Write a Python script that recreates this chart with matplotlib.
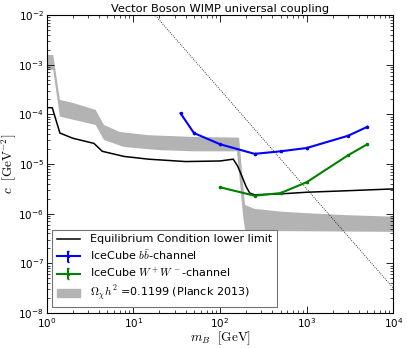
import numpy as np
import matplotlib
matplotlib.use('Agg')
import matplotlib.pyplot as plt
from matplotlib.patches import Patch

plt.rcParams['mathtext.fontset'] = 'cm'
plt.rcParams['font.family'] = ['DejaVu Sans']
plt.rcParams['xtick.direction'] = 'in'
plt.rcParams['ytick.direction'] = 'in'
plt.rcParams['xtick.top'] = True
plt.rcParams['ytick.right'] = True

# Planck relic density band (upper / lower edge)
band_up_m = [1.0, 1.19, 1.42, 2.0, 3.67, 4.58, 7.0, 15, 50, 162, 166, 194, 250, 500, 1000, 3000, 1e4]
band_up_c = [1.57e-3, 1.57e-3, 1.95e-4, 1.7e-4, 1.23e-4, 6.1e-5, 4.4e-5, 3.8e-5, 3.5e-5,
             3.4e-5, 3.3e-5, 1.5e-6, 1.25e-6, 1.1e-6, 1.02e-6, 9.3e-7, 8.7e-7]
band_lo_m = [1.0, 1.19, 1.42, 3.67, 4.58, 7.8, 20, 50, 157, 185, 195, 1e4]
band_lo_c = [7.8e-4, 7.8e-4, 9.0e-5, 6.1e-5, 3.05e-5, 2.2e-5, 1.9e-5, 1.8e-5, 1.8e-5,
             8.7e-7, 4.5e-7, 4.3e-7]

# equilibrium condition lower limit
eq_m = [1.0, 1.16, 1.42, 2.0, 3.51, 4.38, 7.8, 15, 40, 100, 142, 160, 180, 200, 220, 250,
        500, 1000, 3000, 1e4]
eq_c = [1.36e-4, 1.36e-4, 4.2e-5, 3.3e-5, 2.6e-5, 1.8e-5, 1.42e-5, 1.25e-5, 1.12e-5,
        1.15e-5, 1.25e-5, 9e-6, 5.5e-6, 3.5e-6, 2.6e-6, 2.4e-6, 2.5e-6, 2.7e-6, 2.9e-6, 3.15e-6]

# IceCube limits
bb_m = [35, 50, 100, 250, 500, 1000, 3000, 5000]
bb_c = [1.05e-4, 4.2e-5, 2.5e-5, 1.6e-5, 1.8e-5, 2.1e-5, 3.7e-5, 5.6e-5]
ww_m = [100, 250, 500, 1000, 3000, 5000]
ww_c = [3.4e-6, 2.3e-6, 2.6e-6, 4.3e-6, 1.5e-5, 2.5e-5]

# dotted diagonal
dot_m = [1.0, 1e4]
dot_c = [3.14, 3.14e-8]

fig = plt.figure(figsize=(4.07, 3.48), dpi=100)
ax = fig.add_axes([0.1147, 0.1006, 0.8519, 0.8563])

ax.fill(np.r_[band_up_m, band_lo_m[::-1]], np.r_[band_up_c, band_lo_c[::-1]],
        color='0.7', lw=0)
ax.plot(eq_m, eq_c, color='k', lw=1.1)
ax.errorbar(bb_m, bb_c, yerr=np.multiply(bb_c, 0.03), color='b', lw=1.5,
            marker='.', ms=3, capsize=1)
ax.errorbar(ww_m, ww_c, yerr=np.multiply(ww_c, 0.03), color='g', lw=1.5,
            marker='.', ms=3, capsize=1)
ax.plot(dot_m, dot_c, color='k', ls=':', lw=0.6)

ax.set_xscale('log')
ax.set_yscale('log')
ax.set_xlim(1, 1e4)
ax.set_ylim(1e-8, 1e-2)
ax.tick_params(labelsize=7.5, length=5, width=0.6, which='major', pad=2)
ax.tick_params(length=2.5, width=0.5, which='minor')

ax.set_title('Vector Boson WIMP universal coupling', fontsize=8.2, pad=2)
ax.set_xlabel(r'$m_B\ \ [\mathrm{GeV}]$', fontsize=9.5, labelpad=0)
ax.set_ylabel(r'$c\ \ [\mathrm{GeV}^{-2}]$', fontsize=9.5, labelpad=0)

handles = [plt.Line2D([], [], color='k', lw=1.1),
           ax.containers[0], ax.containers[1],
           Patch(color='0.7')]
labels = ['Equilibrium Condition lower limit',
          r'IceCube $b\bar{b}$-channel',
          r'IceCube $W^+W^-$-channel',
          r'$\Omega_\chi h^2$ =0.1199 (Planck 2013)']
leg = ax.legend(handles, labels, loc='lower left', fontsize=8, fancybox=False,
                handlelength=2.1, handletextpad=0.9, labelspacing=0.35,
                borderaxespad=0.5, framealpha=1)
leg.get_frame().set_edgecolor('0.45')
leg.get_frame().set_linewidth(0.8)

fig.savefig('out.png', dpi=100)
